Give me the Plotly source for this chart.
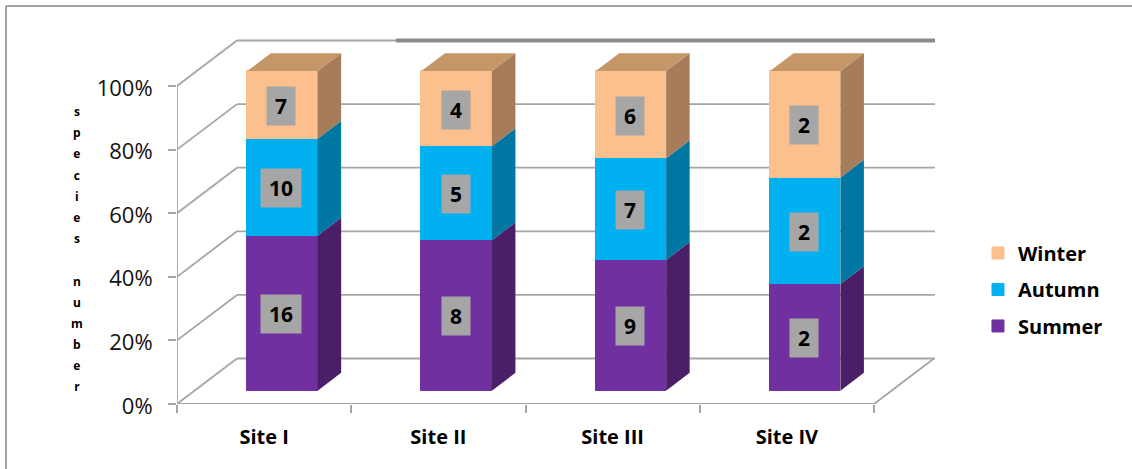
import plotly.graph_objects as go

sites = ["Site I", "Site II", "Site III", "Site IV"]
summer = [16, 8, 9, 2]
autumn = [10, 5, 7, 2]
winter = [7, 4, 6, 2]
y_ticks = [0, 20, 40, 60, 80, 100]
y_labels = ["0%", "20%", "40%", "60%", "80%", "100%"]
season_names = ["Summer", "Autumn", "Winter"]
season_values = [summer, autumn, winter]
legend_ranks = [3, 2, 1]
front_colors = ["#7030A0", "#00B0F0", "#FBC08E"]
side_colors = ["#4B1F68", "#0076A3", "#A67C5A"]
top_color = "#C49668"
axis_title = "species number"

# layout constants (data units on the axes)
X_MAX = 4.35
Y_MAX = 117.6
WALL_DX, WALL_DY = 0.344, 14.3
BAR_CENTER, BAR_W = 0.605, 0.404
BAR_DX, BAR_DY = 0.135, 5.6
BAR_BASE, BAR_SCALE = 4.2, 1.005
GRID = "#A6A6A6"
FONT = "Open Sans"

n_sites = len(sites)
totals = [sum(v[i] for v in season_values) for i in range(n_sites)]

fig = go.Figure()
annotations = []
bases = [BAR_BASE] * n_sites
xs = [i + BAR_CENTER for i in range(n_sites)]
for name, vals, front, side, rank in zip(season_names, season_values, front_colors, side_colors, legend_ranks):
    heights = [v / t * 100 * BAR_SCALE for v, t in zip(vals, totals)]
    fig.add_trace(go.Bar(
        x=xs, y=heights, base=bases, width=BAR_W, name=name, legendgroup=name, legendrank=rank,
        marker=dict(color=front, line=dict(color=front, width=1)), hoverinfo="skip",
    ))
    px, py = [], []
    for x, b, h in zip(xs, bases, heights):
        r = x + BAR_W / 2
        px += [r, r + BAR_DX, r + BAR_DX, r, r, None]
        py += [b, b + BAR_DY, b + h + BAR_DY, b + h, b, None]
    fig.add_trace(go.Scatter(x=px, y=py, mode="lines", fill="toself", fillcolor=side,
                             line=dict(width=0, color=side), showlegend=False, hoverinfo="skip"))
    for x, b, h, v in zip(xs, bases, heights, vals):
        annotations.append(dict(
            x=x, y=b + h / 2, xref="x", yref="y", text=f"<b>{v}</b>", showarrow=False,
            bgcolor="#A6A6A6", width=40 if v >= 10 else 28, height=38, yshift=-1, xshift=-1,
            borderpad=0, font=dict(family=FONT, size=21, color="#000000"),
        ))
    bases = [b + h for b, h in zip(bases, heights)]

tx, ty = [], []
for x, b in zip(xs, bases):
    l, r = x - BAR_W / 2, x + BAR_W / 2
    tx += [l, r, r + BAR_DX, l + BAR_DX, l, None]
    ty += [b, b, b + BAR_DY, b + BAR_DY, b, None]
fig.add_trace(go.Scatter(x=tx, y=ty, mode="lines", fill="toself", fillcolor=top_color,
                         line=dict(width=0, color=top_color), showlegend=False, hoverinfo="skip"))

shapes = []
def seg(x0, y0, x1, y1, width=1.8, color=GRID):
    shapes.append(dict(type="line", xref="x", yref="y", x0=x0, y0=y0, x1=x1, y1=y1,
                       layer="below", line=dict(color=color, width=width)))

for t in y_ticks:
    seg(0, t, WALL_DX, t + WALL_DY)
    seg(WALL_DX, t + WALL_DY, X_MAX, t + WALL_DY)
seg(0, 0, 0, 100)
seg(0, 0, 4, 0)
seg(4, 0, 4 + WALL_DX, WALL_DY)
seg(1.257, 100 + WALL_DY, X_MAX, 100 + WALL_DY, width=4, color="#8C8C8C")

# outer frame
frame = dict(color="#868686", width=1.5)
shapes.append(dict(type="line", xref="paper", yref="paper", x0=-0.2256, x1=1.26, y0=1.0642, y1=1.0642, line=frame))
shapes.append(dict(type="line", xref="paper", yref="paper", x0=-0.2256, x1=-0.2256, y0=-0.18, y1=1.0642, line=frame))

letters = "<br>".join(f'<span style="font-size:12px">{c if c != " " else "&nbsp;"}</span>' for c in axis_title)
annotations.append(dict(xref="paper", yref="paper", x=-0.143, y=0.415, text=f"<b>{letters}</b>",
                        showarrow=False, align="center", font=dict(family=FONT, size=16.3, color="#000000")))

fig.update_layout(
    width=1132, height=469, margin=dict(l=177, r=197, t=30, b=65, autoexpand=False),
    paper_bgcolor="white", plot_bgcolor="white", barmode="overlay", bargap=0,
    shapes=shapes, annotations=annotations,
    xaxis=dict(range=[0, X_MAX], tickmode="array", tickvals=[i + 0.5 for i in range(n_sites)],
               ticktext=[f"<b>{s}</b>" for s in sites], ticks="", ticklabelstandoff=19,
               tickfont=dict(family=FONT, size=20, color="#000000"), showgrid=False, zeroline=False,
               showline=False,
               minor=dict(tickmode="array", tickvals=list(range(n_sites + 1)), ticks="outside",
                          ticklen=8, tickwidth=1.5, tickcolor=GRID, showgrid=False)),
    yaxis=dict(range=[0, Y_MAX], tickmode="array", tickvals=y_ticks, ticktext=y_labels,
               ticks="outside", ticklen=8, tickwidth=1.5, tickcolor=GRID, showgrid=False,
               zeroline=False, showline=False, ticklabelstandoff=11, ticklabelshift=2,
               tickfont=dict(family=FONT, size=22, color="#111111")),
    legend=dict(x=1.0567, y=0.456, xanchor="left", yanchor="top", traceorder="grouped",
                tracegroupgap=7.5, font=dict(family=FONT, size=20, color="#000000", weight="bold"),
                bgcolor="rgba(0,0,0,0)", itemclick=False, itemdoubleclick=False),
    showlegend=True,
)

fig.write_html("out.html", config={"displayModeBar": False},
               post_script="document.body.style.margin='0';")
